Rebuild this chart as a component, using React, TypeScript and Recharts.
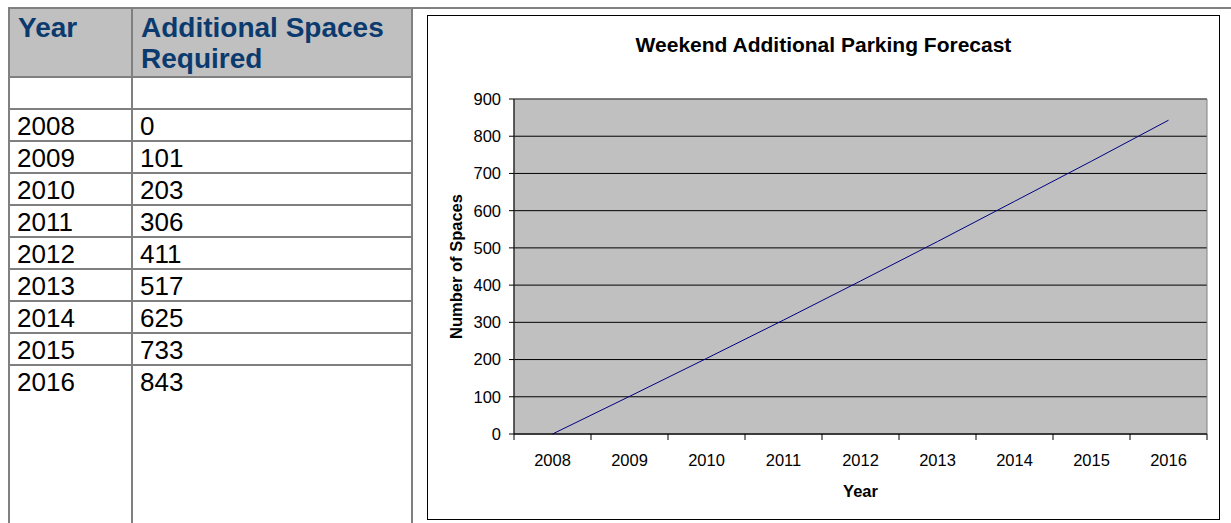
import {
  LineChart,
  Line,
  XAxis,
  YAxis,
  CartesianGrid,
  ReferenceArea,
} from "recharts";

// Forecast of extra weekend parking spaces needed, per year.
const years = ["2008", "2009", "2010", "2011", "2012", "2013", "2014", "2015", "2016"];
const spaces = [0, 101, 203, 306, 411, 517, 625, 733, 843];
const yTicks = [0, 100, 200, 300, 400, 500, 600, 700, 800, 900];

// slot = band index of each year, used by the hidden-label axis that carries the edge ticks
const rows = years.map((year, i) => ({ year, slot: i, spaces: spaces[i] }));
// Tick marks sit on the edges between the year bands (0..n on a numeric axis).
const edgeTicks = Array.from({ length: years.length + 1 }, (_, i) => i);

const FONT = "'Liberation Sans', Arial, sans-serif";
const GRID = "#808080";
const HEAD = "#0b3a6e";

const cell: React.CSSProperties = {
  border: `2px solid ${GRID}`,
  padding: "2px 6px 0 7px",
  height: 28,
  verticalAlign: "top",
  fontSize: 26,
  lineHeight: "28px",
};

function ForecastTable() {
  return (
    <table
      style={{
        position: "absolute",
        left: 8,
        top: 7,
        borderCollapse: "collapse",
        tableLayout: "fixed",
        width: 405,
        fontFamily: FONT,
        color: "#000",
      }}
    >
      <colgroup>
        <col style={{ width: 123 }} />
        <col style={{ width: 280 }} />
      </colgroup>
      <tbody>
        <tr>
          {["Year", "Additional Spaces Required"].map((h) => (
            <td
              key={h}
              style={{
                ...cell,
                height: 64,
                padding: "3px 6px 0 8px",
                background: "#c0c0c0",
                color: HEAD,
                fontWeight: "bold",
                fontSize: 28,
                lineHeight: "31px",
              }}
            >
              {h}
            </td>
          ))}
        </tr>
        <tr>
          <td style={cell} />
          <td style={cell} />
        </tr>
        {rows.map((r, i) => {
          const last = i === rows.length - 1;
          const style = last ? { ...cell, height: 200, borderBottom: "none" } : cell;
          return (
            <tr key={r.year}>
              <td style={style}>{r.year}</td>
              <td style={style}>{r.spaces}</td>
            </tr>
          );
        })}
      </tbody>
    </table>
  );
}

function ForecastChart() {
  const tickStyle = { fontSize: 16.5, fill: "#000", fontFamily: FONT };
  const titleStyle = { fontSize: 16.5, fontWeight: "bold", fill: "#000", fontFamily: FONT };
  return (
    <div
      style={{
        position: "absolute",
        left: 427,
        top: 15,
        width: 793,
        height: 505,
        boxSizing: "border-box",
        border: "1px solid #000",
        background: "#fff",
        fontFamily: FONT,
      }}
    >
      <div
        style={{
          position: "absolute",
          left: 0,
          right: 0,
          top: 17,
          textAlign: "center",
          fontSize: 21,
          fontWeight: "bold",
          lineHeight: "24px",
        }}
      >
        Weekend Additional Parking Forecast
      </div>
      <LineChart
        width={791}
        height={503}
        data={rows}
        margin={{ top: 83, right: 12, left: 0, bottom: 0 }}
      >
        <CartesianGrid
          xAxisId="edges"
          vertical={false}
          fill="#c0c0c0"
          fillOpacity={1}
          stroke="#000"
          horizontalValues={yTicks}
        />
        <ReferenceArea xAxisId="year" y1={0} y2={900} fill="none" stroke={GRID} strokeWidth={1} />
        <XAxis
          xAxisId="edges"
          dataKey="slot"
          type="number"
          domain={[0, years.length]}
          ticks={edgeTicks}
          interval={0}
          tickFormatter={() => ""}
          tickSize={6}
          height={1}
          stroke="#000"
          allowDataOverflow
        />
        <XAxis
          xAxisId="year"
          dataKey="year"
          scale="band"
          axisLine={false}
          tickLine={false}
          tickMargin={13}
          height={84}
          tick={tickStyle}
          label={{ value: "Year", position: "insideBottom", offset: 22, style: titleStyle }}
        />
        <YAxis
          domain={[0, 900]}
          ticks={yTicks}
          width={86}
          tickSize={5}
          tickMargin={8}
          stroke="#000"
          tick={tickStyle}
          label={{
            value: "Number of Spaces",
            angle: -90,
            position: "center",
            dx: -15,
            style: titleStyle,
          }}
        />
        <Line
          xAxisId="year"
          type="linear"
          dataKey="spaces"
          stroke="#000080"
          strokeWidth={1}
          dot={false}
          isAnimationActive={false}
        />
      </LineChart>
    </div>
  );
}

export default function App() {
  return (
    <div
      style={{
        position: "absolute",
        left: 0,
        top: 0,
        width: 1231,
        height: 523,
        overflow: "hidden",
        background: "#fff",
      }}
    >
      <ForecastTable />
      <div
        style={{ position: "absolute", left: 412, right: 0, top: 7, height: 2, background: GRID }}
      />
      <ForecastChart />
    </div>
  );
}
